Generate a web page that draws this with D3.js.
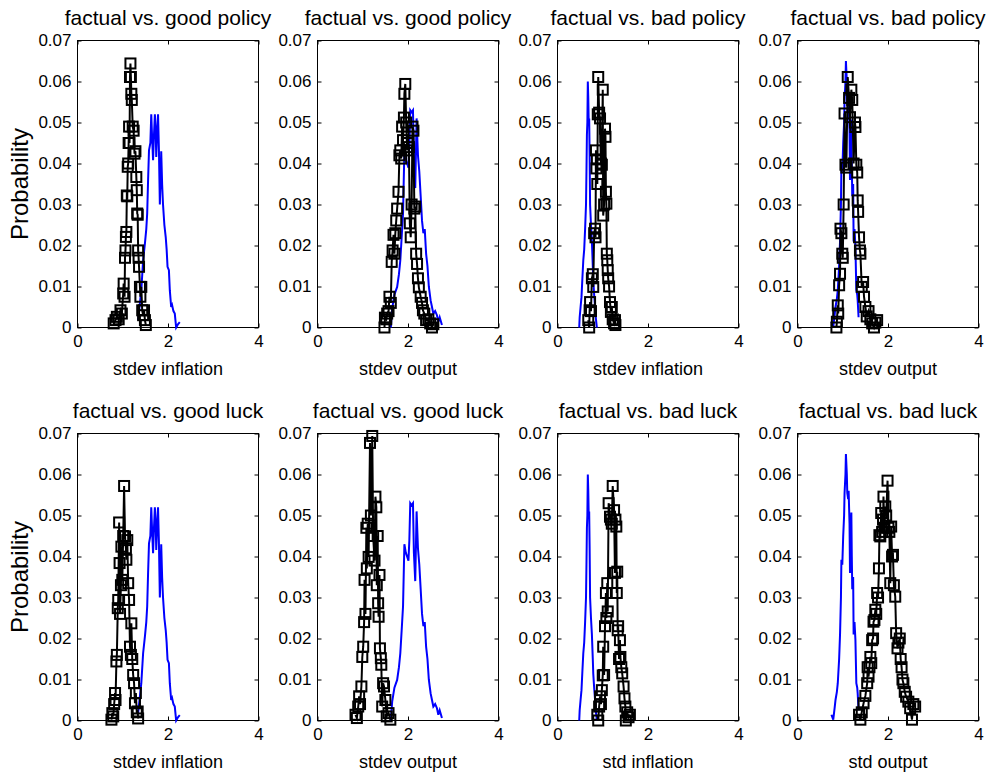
<!DOCTYPE html>
<html lang="en">
<head>
  <meta charset="UTF-8">
  <title>Factual vs. counterfactual volatility</title>
  <style>
    body { margin: 0; background: #fff; font-family: 'Liberation Sans', Arial, sans-serif; }
  </style>
  <script src="https://d3js.org/d3.v7.min.js"></script>
</head>
<body>
<script>
  // axis ticks
  const xTicks = [0, 2, 4];
  const yTicks = [0, 0.01, 0.02, 0.03, 0.04, 0.05, 0.06, 0.07];

  const titles = [
    "factual vs. good policy", "factual vs. good policy", "factual vs. bad policy", "factual vs. bad policy",
    "factual vs. good luck", "factual vs. good luck", "factual vs. bad luck", "factual vs. bad luck"
  ];
  const xLabels = [
    "stdev inflation", "stdev output", "stdev inflation", "stdev output",
    "stdev inflation", "stdev output", "std inflation", "std output"
  ];

  // blue lines (factual), one per column, [x, probability]
  const blueCol1 = [[1.34,0.0018],[1.38,0.006],[1.41,0.0091],[1.45,0.0164],[1.49,0.0205],[1.52,0.024],[1.54,0.0278],[1.56,0.036],[1.58,0.0432],[1.61,0.045],[1.63,0.052],[1.65,0.046],[1.67,0.0408],[1.69,0.047],[1.71,0.052],[1.73,0.047],[1.74,0.0416],[1.76,0.048],[1.78,0.052],[1.80,0.043],[1.82,0.030],[1.84,0.038],[1.85,0.043],[1.87,0.035],[1.89,0.030],[1.92,0.025],[1.95,0.022],[1.97,0.019],[1.99,0.0148],[2.02,0.014],[2.04,0.0091],[2.07,0.005],[2.09,0.0055],[2.12,0.004],[2.15,0.0034],[2.18,0],[2.22,0.0008],[2.26,0.0013]];
  const blueCol2 = [[1.62,0],[1.65,0.0046],[1.70,0.008],[1.76,0.0099],[1.80,0.013],[1.83,0.0164],[1.86,0.022],[1.89,0.0278],[1.92,0.043],[1.95,0.041],[1.98,0.040],[2.01,0.039],[2.03,0.044],[2.05,0.053],[2.08,0.0525],[2.11,0.053],[2.13,0.041],[2.16,0.034],[2.19,0.051],[2.22,0.042],[2.25,0.038],[2.28,0.032],[2.31,0.026],[2.34,0.023],[2.37,0.024],[2.40,0.018],[2.43,0.015],[2.46,0.010],[2.50,0.0066],[2.53,0.005],[2.56,0.0034],[2.60,0.004],[2.64,0.003],[2.67,0.0014],[2.70,0.0025],[2.75,0.0006]];
  const blueCol3 = [[0.48,0],[0.49,0.0025],[0.51,0.005],[0.53,0.0074],[0.55,0.012],[0.57,0.0164],[0.59,0.019],[0.61,0.024],[0.63,0.030],[0.64,0.038],[0.65,0.047],[0.66,0.050],[0.67,0.060],[0.68,0.056],[0.69,0.050],[0.70,0.051],[0.71,0.042],[0.72,0.030],[0.74,0.025],[0.76,0.021],[0.78,0.015],[0.79,0.0115],[0.81,0.008],[0.83,0.005],[0.85,0.002],[0.87,0]];
  const blueCol4 = [[0.75,0.0014],[0.79,0.0002],[0.82,0.003],[0.84,0.005],[0.87,0.007],[0.89,0.0091],[0.92,0.015],[0.94,0.021],[0.96,0.030],[0.97,0.0392],[0.99,0.038],[1.01,0.045],[1.03,0.050],[1.04,0.0555],[1.06,0.060],[1.07,0.065],[1.09,0.060],[1.10,0.0555],[1.12,0.054],[1.13,0.056],[1.15,0.048],[1.16,0.036],[1.18,0.042],[1.19,0.0507],[1.20,0.040],[1.21,0.032],[1.23,0.035],[1.24,0.021],[1.26,0.024],[1.28,0.0197],[1.30,0.0091],[1.32,0.008],[1.33,0.0066],[1.35,0.0025]];

  // black lines with squares (counterfactual), one per panel
  const blackGoodPolicyInfl = [[0.80,0.001],[0.84,0.0018],[0.87,0.0026],[0.91,0.002],[0.95,0.0042],[0.98,0.0034],[1.01,0.0083],[1.02,0.0107],[1.04,0.0075],[1.05,0.017],[1.06,0.0188],[1.07,0.0221],[1.08,0.0233],[1.09,0.0322],[1.10,0.032],[1.11,0.0392],[1.12,0.040],[1.13,0.045],[1.14,0.049],[1.15,0.045],[1.16,0.0611],[1.17,0.0644],[1.18,0.0611],[1.19,0.057],[1.20,0.0555],[1.22,0.049],[1.24,0.048],[1.26,0.0424],[1.28,0.043],[1.30,0.0367],[1.31,0.0335],[1.32,0.0278],[1.33,0.0275],[1.34,0.0188],[1.35,0.017],[1.36,0.0148],[1.38,0.0099],[1.39,0.0075],[1.41,0.0099],[1.43,0.0042],[1.45,0.003],[1.47,0.0042],[1.49,0.0018],[1.51,0.0006]];
  const blackGoodPolicyOut = [[1.48,0],[1.49,0.0024],[1.52,0.002],[1.54,0.0034],[1.57,0.004],[1.59,0.0075],[1.62,0.006],[1.64,0.016],[1.66,0.0188],[1.68,0.0226],[1.70,0.018],[1.72,0.023],[1.74,0.0261],[1.76,0.029],[1.79,0.0331],[1.81,0.042],[1.83,0.0432],[1.85,0.0412],[1.87,0.049],[1.89,0.0457],[1.91,0.0512],[1.92,0.057],[1.94,0.0594],[1.96,0.050],[1.98,0.0432],[2.00,0.045],[2.02,0.044],[2.04,0.0254],[2.06,0.022],[2.08,0.030],[2.10,0.049],[2.12,0.048],[2.14,0.029],[2.16,0.0295],[2.18,0.018],[2.20,0.0155],[2.22,0.012],[2.24,0.0098],[2.28,0.0075],[2.31,0.006],[2.33,0.0042],[2.36,0.0034],[2.40,0.0018],[2.45,0.002],[2.49,0.001],[2.53,0],[2.56,0.0008]];
  const blackBadPolicyInfl = [[0.68,0.0018],[0.70,0],[0.71,0.0042],[0.72,0.0062],[0.74,0.004],[0.76,0.012],[0.78,0.013],[0.79,0.0099],[0.81,0.023],[0.83,0.0241],[0.84,0.022],[0.85,0.0432],[0.86,0.0388],[0.87,0.041],[0.88,0.035],[0.89,0.052],[0.90,0.0611],[0.92,0.0524],[0.94,0.051],[0.96,0.040],[0.98,0.0397],[1.00,0.058],[1.01,0.0273],[1.03,0.030],[1.05,0.0485],[1.06,0.0465],[1.07,0.0331],[1.08,0.0302],[1.09,0.018],[1.10,0.0164],[1.11,0.014],[1.12,0.012],[1.14,0.010],[1.16,0.0062],[1.18,0.0038],[1.20,0.005],[1.22,0.002],[1.25,0.001],[1.27,0.0018],[1.28,0.0006]];
  const blackBadPolicyOut = [[0.86,0],[0.87,0.0014],[0.89,0.0054],[0.90,0.0034],[0.92,0.0103],[0.94,0.0131],[0.95,0.0241],[0.97,0.023],[0.99,0.018],[1.00,0.017],[1.02,0.030],[1.04,0.0522],[1.06,0.0397],[1.08,0.039],[1.11,0.0611],[1.14,0.056],[1.16,0.0513],[1.19,0.058],[1.21,0.0555],[1.24,0.040],[1.27,0.050],[1.28,0.0489],[1.30,0.0397],[1.32,0.0378],[1.33,0.031],[1.34,0.0282],[1.36,0.022],[1.38,0.0188],[1.39,0.018],[1.42,0.0099],[1.45,0.0111],[1.47,0.0075],[1.50,0.005],[1.53,0.0027],[1.57,0.004],[1.61,0.002],[1.65,0.001],[1.69,0],[1.72,0.0012],[1.76,0.0018]];
  const blackGoodLuckInfl = [[0.75,0.0002],[0.77,0.0018],[0.79,0.001],[0.81,0.004],[0.83,0.0067],[0.84,0.005],[0.86,0.0144],[0.87,0.016],[0.89,0.0274],[0.90,0.0294],[0.92,0.0483],[0.93,0.0384],[0.94,0.026],[0.96,0.033],[0.97,0.0424],[0.99,0.0343],[1.01,0.045],[1.03,0.0572],[1.05,0.0449],[1.07,0.042],[1.08,0.0392],[1.10,0.044],[1.12,0.0335],[1.14,0.0294],[1.16,0.018],[1.18,0.016],[1.19,0.0237],[1.21,0.015],[1.23,0.0111],[1.25,0.0091],[1.27,0.0042],[1.29,0.0067],[1.31,0.002],[1.33,0.0022],[1.34,0.0005]];
  const blackGoodLuckOut = [[0.84,0.0014],[0.87,0.0006],[0.90,0.0034],[0.92,0.0059],[0.94,0.004],[0.97,0.0083],[0.99,0.0155],[1.01,0.018],[1.03,0.024],[1.04,0.0343],[1.06,0.026],[1.08,0.047],[1.09,0.0371],[1.11,0.048],[1.13,0.0399],[1.16,0.0677],[1.18,0.050],[1.21,0.0694],[1.23,0.045],[1.26,0.039],[1.28,0.0546],[1.30,0.052],[1.31,0.033],[1.33,0.045],[1.34,0.0286],[1.35,0.0253],[1.37,0.0355],[1.38,0.0176],[1.40,0.0152],[1.41,0.0136],[1.43,0.0034],[1.45,0.0091],[1.47,0.0083],[1.50,0.005],[1.53,0.001],[1.57,0.0018],[1.61,0.0002]];
  const blackBadLuckInfl = [[0.88,0.0014],[0.90,0],[0.92,0.0034],[0.94,0.0059],[0.96,0.004],[0.98,0.0074],[1.00,0.011],[1.01,0.018],[1.03,0.0111],[1.05,0.023],[1.07,0.0311],[1.08,0.025],[1.10,0.0335],[1.11,0.0266],[1.13,0.053],[1.16,0.0497],[1.18,0.049],[1.20,0.048],[1.22,0.0572],[1.25,0.0513],[1.27,0.036],[1.28,0.049],[1.30,0.0473],[1.31,0.0311],[1.32,0.0363],[1.33,0.022],[1.34,0.023],[1.36,0.015],[1.38,0.0196],[1.39,0.0155],[1.41,0.013],[1.43,0.0115],[1.46,0.0083],[1.48,0.0054],[1.50,0.0034],[1.51,0],[1.54,0.002],[1.57,0.0008],[1.60,0.0014]];
  const blackBadLuckOut = [[1.36,0.0014],[1.39,0.0002],[1.42,0.002],[1.46,0.0042],[1.50,0.006],[1.54,0.0091],[1.55,0.013],[1.57,0.0107],[1.59,0.013],[1.61,0.0155],[1.63,0.014],[1.65,0.0196],[1.67,0.020],[1.68,0.0241],[1.70,0.0245],[1.72,0.027],[1.74,0.026],[1.76,0.0311],[1.78,0.030],[1.80,0.0371],[1.81,0.0452],[1.83,0.0449],[1.85,0.0506],[1.87,0.046],[1.89,0.049],[1.90,0.0546],[1.92,0.047],[1.94,0.0522],[1.96,0.050],[1.99,0.0585],[2.01,0.047],[2.03,0.046],[2.05,0.0335],[2.07,0.0473],[2.09,0.040],[2.11,0.0404],[2.13,0.033],[2.16,0.0302],[2.18,0.0213],[2.21,0.0176],[2.23,0.019],[2.26,0.020],[2.28,0.015],[2.30,0.013],[2.32,0.010],[2.34,0.0091],[2.37,0.007],[2.40,0.0058],[2.45,0.0046],[2.49,0.003],[2.53,0.0002],[2.56,0.004],[2.60,0.0034]];

  const blueByPanel = [blueCol1, blueCol2, blueCol3, blueCol4, blueCol1, blueCol2, blueCol3, blueCol4];
  const blackByPanel = [blackGoodPolicyInfl, blackGoodPolicyOut, blackBadPolicyInfl, blackBadPolicyOut,
                        blackGoodLuckInfl, blackGoodLuckOut, blackBadLuckInfl, blackBadLuckOut];

  const W = 991, H = 776;
  const lefts = [77.5, 317.5, 557.5, 797.5];
  const tops = [40.5, 433.5];
  const pw = 181, ph = 287;

  const svg = d3.select("body").append("svg")
    .attr("width", W)
    .attr("height", H);

  const x = d3.scaleLinear().domain([0, 4]).range([0, pw]);
  const y = d3.scaleLinear().domain([0, 0.07]).range([ph, 0]);
  const yFmt = d => d === 0 ? "0" : d3.format(".2f")(d);

  const line = d3.line().x(d => x(d[0])).y(d => y(d[1]));

  titles.forEach((title, i) => {
    const col = i % 4, row = Math.floor(i / 4);
    const g = svg.append("g").attr("transform", `translate(${lefts[col]},${tops[row]})`);

    // box
    g.append("rect")
      .attr("width", pw).attr("height", ph)
      .attr("fill", "none").attr("stroke", "#000").attr("stroke-width", 1);

    // inward ticks on all four sides
    const ax = [
      d3.axisBottom(x).tickValues(xTicks).tickSize(-4).tickPadding(7).tickFormat(d3.format("d")),
      d3.axisTop(x).tickValues(xTicks).tickSize(-4).tickFormat(""),
      d3.axisLeft(y).tickValues(yTicks).tickSize(-4).tickPadding(6).tickFormat(yFmt),
      d3.axisRight(y).tickValues(yTicks).tickSize(-4).tickFormat("")
    ];
    const pos = [[0, ph], [0, 0], [0, 0], [pw, 0]];
    ax.forEach((a, k) => {
      const ag = g.append("g").attr("transform", `translate(${pos[k][0]},${pos[k][1]})`).call(a);
      ag.select(".domain").remove();
      ag.selectAll("text").attr("fill", "#000")
        .style("font-family", "'Liberation Sans', Arial, sans-serif")
        .style("font-size", "17px");
      ag.selectAll("line").attr("stroke", "#000");
    });

    // factual (blue)
    g.append("path")
      .datum(blueByPanel[i])
      .attr("d", line)
      .attr("fill", "none").attr("stroke", "#0000ff").attr("stroke-width", 2);

    // counterfactual (black with squares)
    g.append("path")
      .datum(blackByPanel[i])
      .attr("d", line)
      .attr("fill", "none").attr("stroke", "#000").attr("stroke-width", 2);

    g.selectAll("rect.mk")
      .data(blackByPanel[i])
      .enter().append("rect")
      .attr("class", "mk")
      .attr("x", d => x(d[0]) - 5)
      .attr("y", d => y(d[1]) - 5)
      .attr("width", 10).attr("height", 10)
      .attr("fill", "none").attr("stroke", "#000").attr("stroke-width", 2);

    g.append("text")
      .attr("x", pw / 2).attr("y", -15.5)
      .attr("text-anchor", "middle")
      .style("font-size", "21px")
      .text(title);

    g.append("text")
      .attr("x", pw / 2).attr("y", ph + 47.5)
      .attr("text-anchor", "middle")
      .style("font-size", "18px")
      .text(xLabels[i]);

    if (col === 0) {
      g.append("text")
        .attr("transform", `translate(${28 - lefts[0]},${ph / 2}) rotate(-90)`)
        .attr("text-anchor", "middle")
        .style("font-size", "24px")
        .text("Probability");
    }
  });
</script>
</body>
</html>
